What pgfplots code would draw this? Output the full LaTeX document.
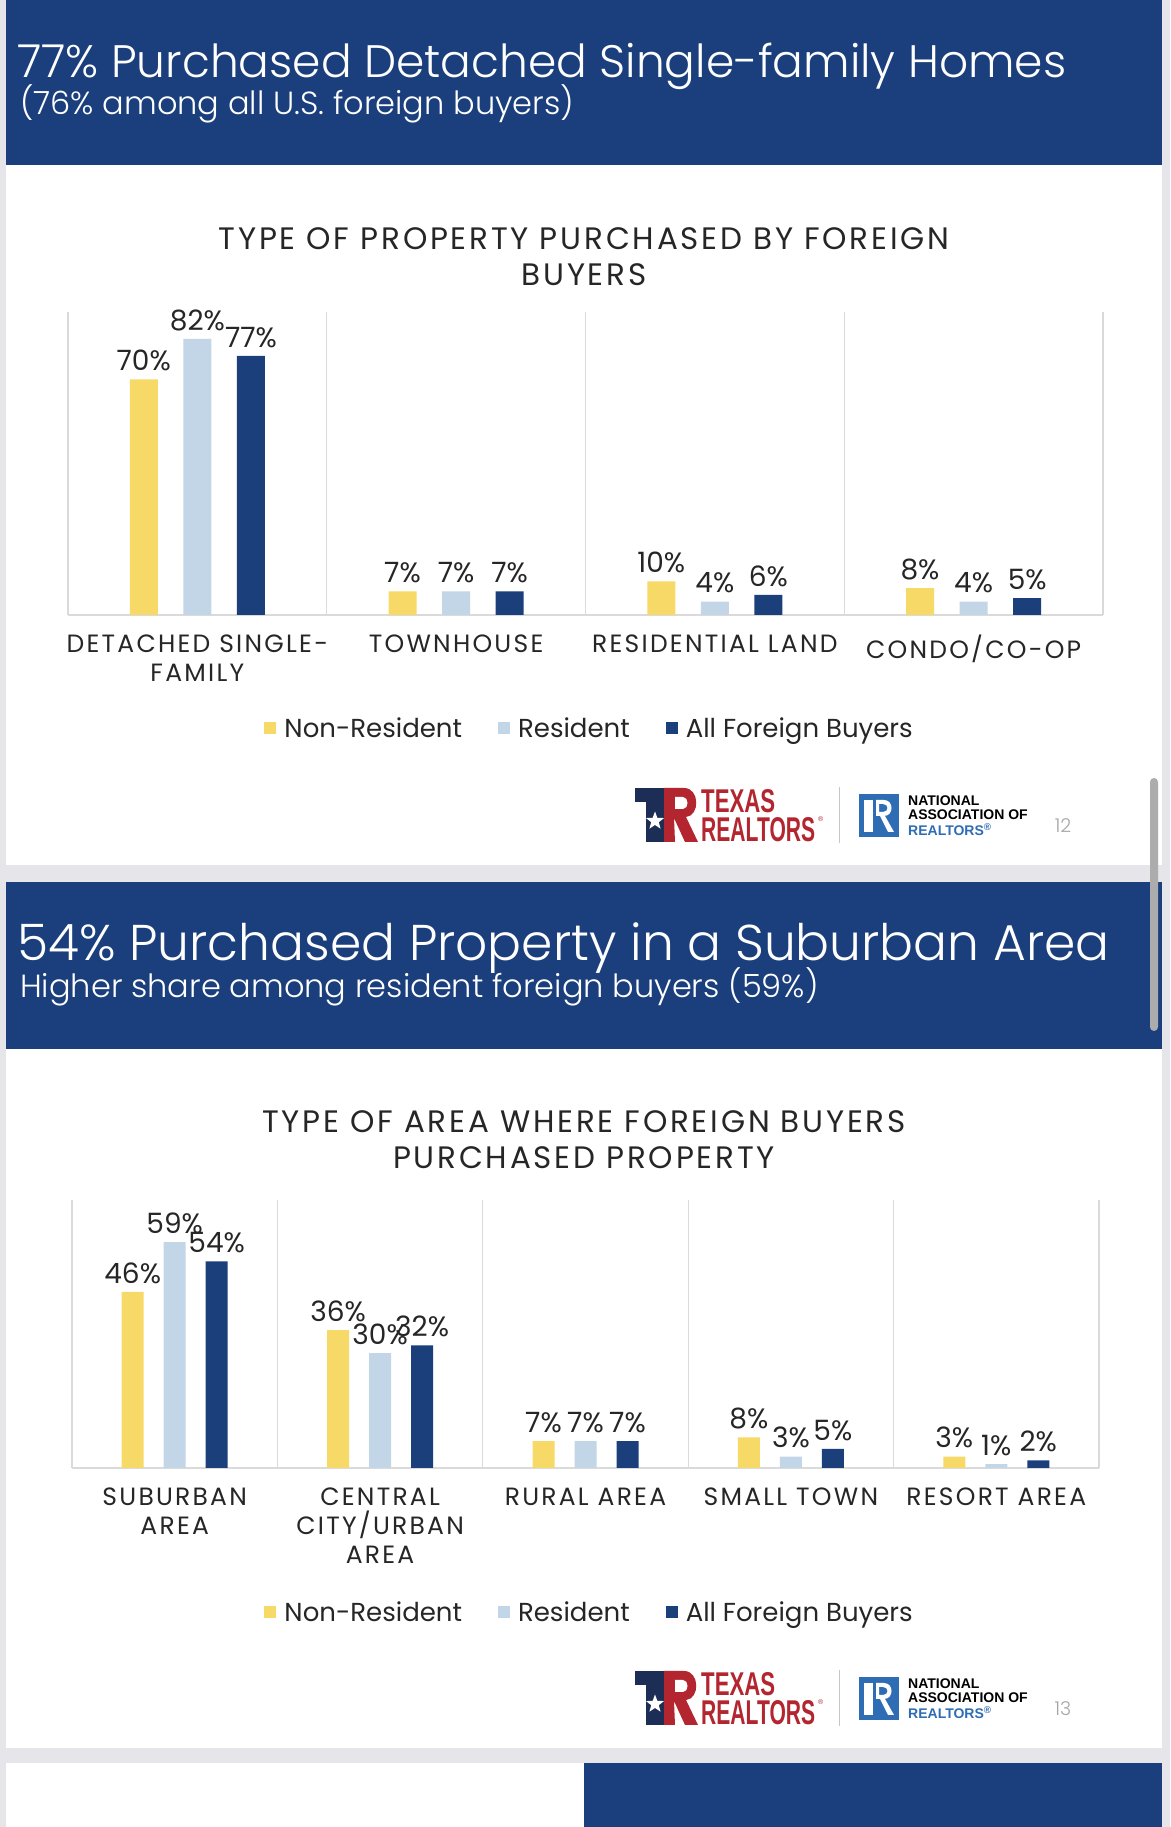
\documentclass[border=0pt]{standalone}
\usepackage{graphicx}
\usepackage{pgfplots}
\pgfplotsset{compat=1.18}
\usepackage{fontspec}
\usetikzlibrary{shapes.geometric}
\setmainfont{Poppins}
\IfFontExistsTF{Poppins Light}{\newfontfamily\lightfont{Poppins Light}}{\newfontfamily\lightfont{Poppins}}
\newfontfamily\capsfont{Poppins}[LetterSpace=9]
\newfontfamily\logofont{Liberation Sans}
\definecolor{hdrblue}{HTML}{1B3F7C}
\definecolor{ylw}{HTML}{F7D968}
\definecolor{lblue}{HTML}{C3D6E8}
\definecolor{dblue}{HTML}{1B3F7B}
\definecolor{gridgray}{HTML}{DADADA}
\definecolor{txt}{HTML}{262626}
\definecolor{bggray}{HTML}{E6E6EA}
\definecolor{txred}{HTML}{B3262F}
\definecolor{txnavy}{HTML}{1C2E55}
\definecolor{narblue}{HTML}{2E6DB4}
\pgfplotsset{
  slide/.style={
    scale only axis, ymin=0, xmin=-0.5,
    axis y line=none, axis x line*=bottom,
    x axis line style={-, draw=gridgray, line width=1.3pt},
    ytick=\empty,
    major tick length=0pt, minor tick length=0pt,
    xminorgrids, minor grid style={draw=gridgray, line width=1.3pt},
    xticklabel style={font=\capsfont\fontsize{25}{29}\selectfont, text=txt, align=center, anchor=north, inner sep=0pt, yshift=-20pt},
    nodes near coords={\pgfmathprintnumber[assume math mode=true]{\pgfplotspointmeta}\%},
    every node near coord/.append style={font=\fontsize{28}{32}\selectfont, text=txt, inner sep=2pt, yshift=6pt},
    legend columns=3,
    legend style={draw=none, fill=none, font=\fontsize{26}{30}\selectfont, text=txt, anchor=center,
      /tikz/every even column/.append style={column sep=34pt}},
    legend image code/.code={\fill[##1] (0pt,-6pt) rectangle (12pt,6pt); \path (18pt,0pt);},
    clip=false,
  },
  ny/.style={fill=ylw, draw=none},
  re/.style={fill=lblue, draw=none},
  al/.style={fill=dblue, draw=none},
}
\newcommand\footer[2]{%
\begin{scope}[shift={(0,#1)}]
  \fill[txnavy] (634.5,788) rectangle (669,802);
  \fill[txnavy] (645.5,802) rectangle (664,842);
  \node[star, star points=5, star point ratio=2.4, fill=white, minimum size=19pt, inner sep=0pt] at (655,821) {};
  \fill[txred] (664,788) -- (684,788) .. controls (700,788) and (700,816) .. (686,817) -- (698,842) -- (685,842) -- (674,818) -- (675,842) -- (664,842) -- cycle;
  \fill[white] (675,797) -- (683,797) .. controls (689,797) and (689,809) .. (683,809) -- (675,809) -- cycle;
  \node[anchor=north west, inner sep=0pt, text=txred] at (701,789) {\resizebox{74pt}{23pt}{\logofont\bfseries TEXAS}};
  \node[anchor=north west, inner sep=0pt, text=txred] at (701,817) {\resizebox{114pt}{24pt}{\logofont\bfseries REALTORS}};
  \node[anchor=north west, inner sep=0pt, text=txred, font=\logofont\fontsize{7}{8}\selectfont] at (818,816) {®};
  \draw[gray!45, line width=1pt] (839,787) -- (839,843);
  \fill[narblue] (859,794) rectangle (899,837);
  \fill[white] (864,800) rectangle (873,832);
  \fill[white, even odd rule] (876,800) -- (884,800) .. controls (894,800) and (894,816) .. (884,816) -- (876,816) -- cycle (879,804) -- (883,804) .. controls (889,804) and (889,812) .. (883,812) -- (879,812) -- cycle;
  \fill[white] (880,816) -- (885,816) -- (894,832) -- (888,832) -- cycle;
  \node[anchor=west, inner sep=0pt, font=\logofont\bfseries\fontsize{14}{16}\selectfont, text=black] at (908,801) {NATIONAL};
  \node[anchor=west, inner sep=0pt, font=\logofont\bfseries\fontsize{14}{16}\selectfont, text=black] at (908,815) {ASSOCIATION OF};
  \node[anchor=west, inner sep=0pt, font=\logofont\bfseries\fontsize{14}{16}\selectfont, text=narblue] at (908,830) {REALTORS\textsuperscript{®}};
  \node[inner sep=0pt, font=\lightfont\fontsize{19}{22}\selectfont, text=gray!70] at (1063,826) {#2};
\end{scope}}
\begin{document}
\begin{tikzpicture}[x=1pt,y=1pt]
\useasboundingbox (0,0) rectangle (1170,1827);
\fill[bggray] (0,0) rectangle (1170,1827);
\coordinate (A1) at (68,1212);
\coordinate (A2) at (72,359);
\begin{scope}[shift={(0,1827)},yscale=-1]
  % slide 1
  \fill[white] (6,0) rectangle (1162,865);
  \fill[hdrblue] (6,0) rectangle (1162,165);
  \node[anchor=base west, inner sep=0pt, text=white, font=\lightfont\fontsize{45.5}{50}\selectfont] at (17,78) {77\% Purchased Detached Single-family Homes};
  \node[anchor=base west, inner sep=0pt, text=white, font=\lightfont\fontsize{32}{36}\selectfont] at (20,115) {(76\% among all U.S. foreign buyers)};
  \node[align=center, text=txt, font=\capsfont\fontsize{31}{36}\selectfont] at (584,257) {TYPE OF PROPERTY PURCHASED BY FOREIGN\\BUYERS};
  \footer{0}{12}
  % slide 2
  \fill[white] (6,882) rectangle (1162,1748);
  \fill[hdrblue] (6,882) rectangle (1162,1049);
  \node[anchor=base west, inner sep=0pt, text=white, font=\lightfont\fontsize{50.3}{54}\selectfont] at (17,961) {54\% Purchased Property in a Suburban Area};
  \node[anchor=base west, inner sep=0pt, text=white, font=\lightfont\fontsize{32}{36}\selectfont] at (20,998) {Higher share among resident foreign buyers (59\%)};
  \node[align=center, text=txt, font=\capsfont\fontsize{31}{36}\selectfont] at (584,1139.5) {TYPE OF AREA WHERE FOREIGN BUYERS\\PURCHASED PROPERTY};
  \footer{883}{13}
  % slide 3
  \fill[white] (6,1763) rectangle (584,1827);
  \fill[hdrblue] (584,1763) rectangle (1162,1827);
  % scrollbar
  \fill[gray!65, rounded corners=4pt] (1150,778) rectangle (1158,1031);
\end{scope}

\begin{axis}[ybar=25.6pt, bar width=28pt, slide,
  at={(A1)}, anchor=south west, width=1035pt, height=303pt,
  ymax=90, xmax=3.5, xtick={0,1,2,3},
  minor xtick={-0.5,0.5,1.5,2.5,3.5},
  xticklabels={{DETACHED SINGLE-\\FAMILY},TOWNHOUSE,RESIDENTIAL LAND,CONDO/CO-OP},
  legend style={at={(0.504,-0.373)}}]
\addplot[ny] coordinates {(0,70) (1,7) (2,10) (3,8)};
\addplot[re] coordinates {(0,82) (1,7) (2,4) (3,4)};
\addplot[al] coordinates {(0,77) (1,7) (2,6) (3,5)};
\legend{Non-Resident,Resident,All Foreign Buyers}
\end{axis}

\begin{axis}[ybar=20pt, bar width=22pt, slide,
  at={(A2)}, anchor=south west, width=1027pt, height=268pt,
  ymax=70, xmax=4.5, xtick={0,1,2,3,4},
  minor xtick={-0.5,0.5,1.5,2.5,3.5,4.5},
  xticklabels={{SUBURBAN\\AREA},{CENTRAL\\CITY/URBAN\\AREA},RURAL AREA,SMALL TOWN,RESORT AREA},
  legend style={at={(0.504,-0.537)}}]
\addplot[ny] coordinates {(0,46) (1,36) (2,7) (3,8) (4,3)};
\addplot[re] coordinates {(0,59) (1,30) (2,7) (3,3) (4,1)};
\addplot[al] coordinates {(0,54) (1,32) (2,7) (3,5) (4,2)};
\legend{Non-Resident,Resident,All Foreign Buyers}
\end{axis}
\end{tikzpicture}
\end{document}
